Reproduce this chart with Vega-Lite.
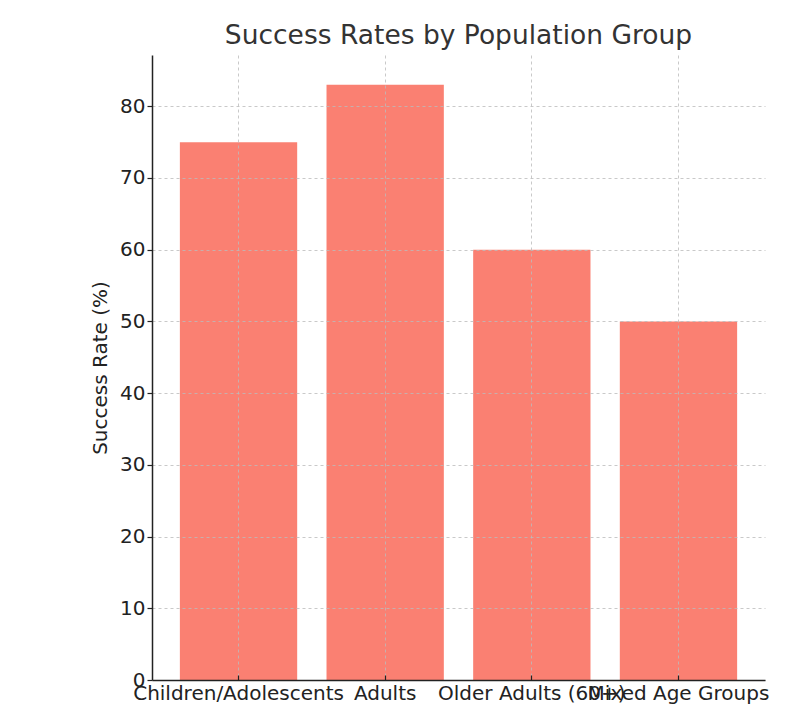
{
  "$schema": "https://vega.github.io/schema/vega-lite/v6.json",
  "width": 613,
  "height": 625,
  "autosize": {"type": "none"},
  "padding": {"left": 152, "top": 55, "right": 38, "bottom": 24},
  "background": "white",
  "config": {
    "view": {"stroke": null},
    "font": "DejaVu Sans"
  },
  "title": {
    "text": "Success Rates by Population Group",
    "fontSize": 26.5,
    "font": "DejaVu Sans",
    "fontWeight": "normal",
    "color": "#333333",
    "anchor": "middle",
    "baseline": "bottom",
    "offset": -21
  },
  "data": {
    "values": [
      {"group": "Children/Adolescents", "rate": 75},
      {"group": "Adults", "rate": 83},
      {"group": "Older Adults (60+)", "rate": 60},
      {"group": "Mixed Age Groups", "rate": 50}
    ]
  },
  "mark": {"type": "bar", "color": "#FA8072"},
  "encoding": {
    "x": {
      "field": "group",
      "type": "nominal",
      "sort": null,
      "scale": {"paddingInner": 0.2, "paddingOuter": 0.19},
      "axis": {
        "title": null,
        "labelAngle": 0,
        "labelFontSize": 20,
        "labelColor": "#222222",
        "labelFont": "DejaVu Sans",
        "labelOverlap": false,
        "labelLimit": 0,
        "labelPadding": 8,
        "labelBaseline": "top",
        "tickSize": -5,
        "tickColor": "#222222",
        "tickWidth": 1.2,
        "bandPosition": 0.5,
        "domainColor": "#222222",
        "domainWidth": 1.5,
        "grid": true,
        "gridColor": "#bbbbbb",
        "gridDash": [3, 3],
        "gridWidth": 0.8,
        "zindex": 1
      }
    },
    "y": {
      "field": "rate",
      "type": "quantitative",
      "scale": {"domain": [0, 87.15], "nice": false, "zero": true},
      "axis": {
        "title": "Success Rate (%)",
        "titleFontSize": 20,
        "titleFont": "DejaVu Sans",
        "titleFontWeight": "normal",
        "titleColor": "#222222",
        "titlePadding": 9,
        "values": [0, 10, 20, 30, 40, 50, 60, 70, 80],
        "labelFontSize": 20,
        "labelColor": "#222222",
        "labelFont": "DejaVu Sans",
        "labelPadding": 2,
        "tickSize": 5,
        "tickColor": "#222222",
        "tickWidth": 1.2,
        "domainColor": "#222222",
        "domainWidth": 1.5,
        "grid": true,
        "gridColor": "#bbbbbb",
        "gridDash": [3, 3],
        "gridWidth": 0.8,
        "zindex": 1
      }
    }
  }
}
